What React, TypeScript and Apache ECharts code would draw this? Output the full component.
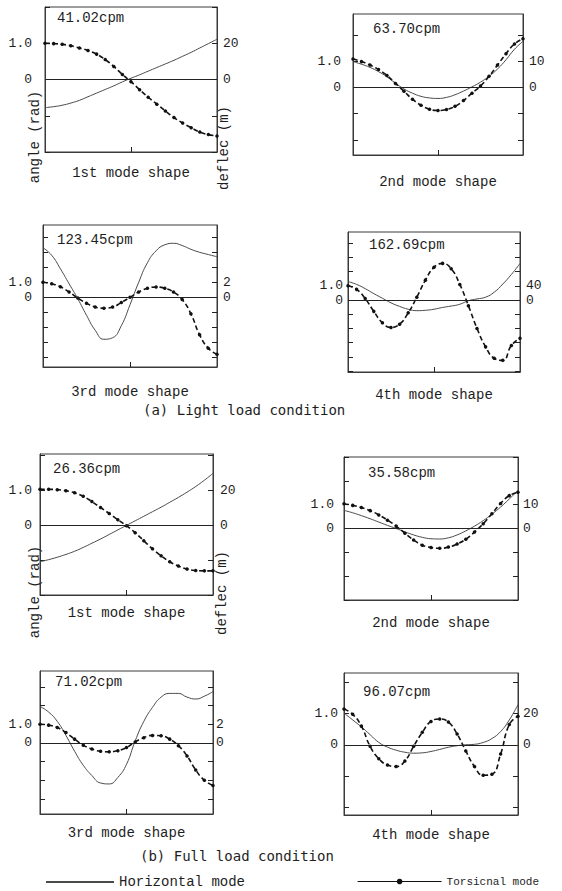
import React, { useEffect, useRef } from 'react';
import * as echarts from 'echarts';

// Position along the shaft (normalised, 0 = left end, 1 = right end)
const positions = [0, 0.05, 0.1, 0.15, 0.2, 0.25, 0.3, 0.35, 0.4, 0.45, 0.5, 0.55, 0.6, 0.65, 0.7, 0.75, 0.8, 0.85, 0.9, 0.95, 1];

const frequencies = ['41.02cpm', '63.70cpm', '123.45cpm', '162.69cpm', '26.36cpm', '35.58cpm', '71.02cpm', '96.07cpm'];
const modeCaptions = ['1st mode shape', '2nd mode shape', '3rd mode shape', '4th mode shape', '1st mode shape', '2nd mode shape', '3rd mode shape', '4th mode shape'];
const angleTickLabel = 1.0;
const deflectionTickLabels = [20, 10, 2, 40, 20, 10, 2, 20];

// (a) Light load condition — torsional angle (rad), horizontal deflection (m)
const light1Torsion = [1.0, 0.99, 0.97, 0.93, 0.87, 0.8, 0.7, 0.55, 0.36, 0.14, -0.06, -0.28, -0.49, -0.68, -0.87, -1.05, -1.2, -1.33, -1.45, -1.52, -1.56];
const light1Horizontal = [-15.5, -15, -14.2, -13, -11.5, -9.5, -7.5, -5.5, -3.5, -1.3, 0.7, 2.6, 4.6, 6.6, 8.6, 10.6, 12.8, 15, 17.4, 19.8, 22.2];
const light2Torsion = [1.08, 0.98, 0.85, 0.68, 0.45, 0.15, -0.15, -0.45, -0.68, -0.83, -0.88, -0.84, -0.72, -0.5, -0.22, 0.05, 0.42, 0.85, 1.28, 1.65, 1.85];
const light2Horizontal = [9.8, 8.8, 7.6, 6, 4, 1.6, -0.6, -2.2, -3.4, -4.0, -4.2, -3.8, -2.8, -1.4, 0.2, 2.0, 4.2, 7.0, 10.5, 14.5, 17.5];
const light3Torsion = [1.0, 0.9, 0.7, 0.35, -0.05, -0.4, -0.65, -0.73, -0.65, -0.35, 0.0, 0.35, 0.6, 0.68, 0.6, 0.35, -0.15, -1.1, -2.5, -3.4, -3.8];
const light3Horizontal = [6.6, 5.6, 3.8, 1.8, -0.2, -2.4, -4.4, -5.6, -5.4, -3.8, -1.0, 2.0, 4.6, 6.2, 7.0, 7.2, 6.9, 6.4, 6.0, 5.7, 5.4];
const light4Torsion = [1.0, 0.75, 0.1, -0.8, -1.6, -1.93, -1.7, -0.9, 0.2, 1.4, 2.3, 2.58, 2.2, 1.1, -0.4, -2.0, -3.3, -4.1, -4.25, -3.2, -2.7];
const light4Horizontal = [52, 44, 32, 18, 5, -8, -18, -26, -30, -29, -26, -21, -17, -12, -2, 3, 8, 22, 45, 72, 103];

// (b) Full load condition
const full1Torsion = [1.02, 1.02, 1.01, 0.98, 0.92, 0.82, 0.67, 0.5, 0.33, 0.15, -0.02, -0.22, -0.45, -0.68, -0.88, -1.05, -1.17, -1.26, -1.3, -1.31, -1.31];
const full1Horizontal = [-21, -19.8, -18.4, -16.8, -15, -12.8, -10.4, -8, -5.4, -2.8, -0.2, 2.4, 5, 7.6, 10.2, 13, 15.8, 18.8, 22, 25.6, 29.5];
const full2Torsion = [1.04, 0.97, 0.88, 0.75, 0.57, 0.35, 0.1, -0.2, -0.48, -0.7, -0.8, -0.83, -0.78, -0.65, -0.45, -0.15, 0.2, 0.62, 1.05, 1.38, 1.52];
const full2Horizontal = [7.6, 6.6, 5.4, 4.1, 2.7, 1.3, 0, -1.4, -2.7, -3.7, -4.3, -4.4, -3.9, -2.7, -1.0, 1.0, 3.3, 6.0, 9.0, 12.4, 16];
const full3Torsion = [1.0, 0.95, 0.82, 0.55, 0.2, -0.12, -0.33, -0.45, -0.48, -0.42, -0.25, 0.05, 0.28, 0.4, 0.38, 0.2, -0.15, -0.7, -1.45, -2.0, -2.28];
const full3Horizontal = [3.9, 3.3, 2.3, 0.8, -0.9, -2.4, -3.5, -4.3, -4.4, -3.7, -2.3, 0.2, 2.3, 3.8, 4.9, 5.3, 5.3, 4.9, 4.7, 5.0, 5.5];
const full4Torsion = [1.15, 0.98, 0.6, -0.05, -0.45, -0.65, -0.7, -0.52, -0.05, 0.4, 0.75, 0.83, 0.73, 0.35, -0.2, -0.7, -0.98, -0.95, -0.3, 0.65, 0.92];
const full4Horizontal = [20.4, 16, 11.5, 6.5, 1.5, -1.5, -3.5, -4.8, -5.4, -5.2, -4.3, -3.0, -1.6, -0.6, 0, 0.3, 1.5, 4, 8.5, 16, 25.8];

const torsionSets = [light1Torsion, light2Torsion, light3Torsion, light4Torsion, full1Torsion, full2Torsion, full3Torsion, full4Torsion];
const horizontalSets = [light1Horizontal, light2Horizontal, light3Horizontal, light4Horizontal, full1Horizontal, full2Horizontal, full3Horizontal, full4Horizontal];

// Layout of each panel: plot box [left, top, width, height], angle-axis range, label margins, caption gap, frequency text position
const layout = [
  { box: [45, 7, 172, 145], range: [-2, 2], mL: 13, mR: 6, gap: 14, cpm: [57, 18] },
  { box: [353, 14, 170, 141], range: [-2.57, 2.79], mL: 12, mR: 6, gap: 20, cpm: [373, 29] },
  { box: [43, 225, 174, 142], range: [-4.65, 4.82], mL: 11, mR: 6, gap: 18, cpm: [57, 240] },
  { box: [348, 232, 172, 140], range: [-5.07, 4.79], mL: 5, mR: 6, gap: 16, cpm: [369, 245] },
  { box: [40, 454, 173, 141], range: [-2, 2.03], mL: 8, mR: 7, gap: 11, cpm: [53, 469] },
  { box: [344, 457, 174, 143], range: [-3, 3], mL: 10, mR: 5, gap: 16, cpm: [368, 473] },
  { box: [40, 671, 173, 143], range: [-3.81, 3.85], mL: 8, mR: 3, gap: 12, cpm: [55, 682] },
  { box: [344, 673, 174, 142], range: [-2.26, 2.31], mL: 6, mR: 5, gap: 13, cpm: [363, 692] },
];

const MONO = '"Liberation Mono", "DejaVu Sans Mono", monospace';
const SANSMONO = '"DejaVu Sans Mono", "Liberation Mono", monospace';
const INK = '#1e1e1e';

function stepTicks(lo: number, hi: number, step: number) {
  const out: number[] = [];
  for (let v = Math.ceil(lo / step - 1e-9) * step; v <= hi + 1e-9; v += step) out.push(Number(v.toFixed(6)));
  return out;
}

export default function App() {
  const ref = useRef<HTMLDivElement>(null);
  useEffect(() => {
    if (!ref.current) return;
    const chart = echarts.init(ref.current, undefined, { renderer: 'svg' });
    const grid: any[] = [];
    const xAxis: any[] = [];
    const yAxis: any[] = [];
    const series: any[] = [];
    const graphic: any[] = [];

    layout.forEach((p, i) => {
      const [l, t, w, h] = p.box;
      const f = deflectionTickLabels[i];
      const leftTicks = stepTicks(p.range[0], p.range[1], 1);
      const rightTicks = stepTicks(p.range[0] * f, p.range[1] * f, f);
      grid.push({ left: l, top: t, width: w, height: h, show: true, borderColor: '#3a3a3a', borderWidth: 1, backgroundColor: 'transparent' });
      xAxis.push({
        type: 'value', gridIndex: i, min: 0, max: 1,
        axisLine: { show: true, onZero: false, lineStyle: { color: '#3a3a3a', width: 1 } },
        axisTick: { show: true, inside: true, length: 5, customValues: [0.5], lineStyle: { color: '#222', width: 1 } },
        axisLabel: { show: true, customValues: [0.5], formatter: () => '' },
        splitLine: { show: false },
        name: modeCaptions[i], nameLocation: 'middle', nameGap: p.gap,
        nameTextStyle: { fontFamily: MONO, fontSize: 14, color: INK },
      });
      yAxis.push({
        type: 'value', gridIndex: i, position: 'left', min: p.range[0], max: p.range[1],
        axisLine: { show: true, onZero: false, lineStyle: { color: '#3a3a3a', width: 1 } },
        axisTick: { show: true, inside: true, length: 5, customValues: leftTicks, lineStyle: { color: '#222', width: 1 } },
        axisLabel: {
          customValues: leftTicks, margin: p.mL, fontFamily: MONO, fontSize: 13, lineHeight: 12, color: INK,
          formatter: (v: number) => (Math.abs(v) < 1e-9 ? '0' : Math.abs(v - angleTickLabel) < 1e-9 ? angleTickLabel.toFixed(1) : ''),
        },
        splitLine: { show: false },
      });
      yAxis.push({
        type: 'value', gridIndex: i, position: 'right', min: p.range[0] * f, max: p.range[1] * f,
        axisLine: { show: true, onZero: false, lineStyle: { color: '#3a3a3a', width: 1 } },
        axisTick: { show: true, inside: true, length: 5, customValues: rightTicks, lineStyle: { color: '#222', width: 1 } },
        axisLabel: {
          customValues: rightTicks, margin: p.mR, fontFamily: MONO, fontSize: 13, lineHeight: 12, color: INK,
          formatter: (v: number) => (Math.abs(v) < 1e-9 ? '0' : Math.abs(v - f) < 1e-9 ? String(f) : ''),
        },
        splitLine: { show: false },
      });
      series.push({
        name: 'Horizontal mode', type: 'line', xAxisIndex: i, yAxisIndex: 2 * i + 1,
        data: positions.map((x, j) => [x, horizontalSets[i][j]]),
        smooth: true, symbol: 'none', color: '#4a4a4a',
        lineStyle: { color: '#4a4a4a', width: 1 }, z: 2,
      });
      series.push({
        name: 'Torsicnal mode', type: 'line', xAxisIndex: i, yAxisIndex: 2 * i,
        data: positions.map((x, j) => [x, torsionSets[i][j]]),
        smooth: true, symbol: 'circle', symbolSize: 3.5, color: '#111',
        itemStyle: { color: '#111' },
        lineStyle: { color: '#111', width: 1.6, type: [5, 3] }, z: 3,
        markLine: {
          silent: true, symbol: 'none', label: { show: false },
          lineStyle: { color: '#222', width: 1, type: 'solid' },
          data: [{ yAxis: 0 }],
        },
      });
      graphic.push({
        type: 'text', x: p.cpm[0], y: p.cpm[1],
        style: { text: frequencies[i], fontFamily: MONO, fontSize: 14, fill: INK, align: 'left', verticalAlign: 'middle' },
      });
    });

    // Axis titles on the first-mode panels
    [[35, 137, 224, 148], [35, 592, 222, 593]].forEach(([ax, ay, dx, dy]) => {
      graphic.push({ type: 'text', x: ax, y: ay, rotation: Math.PI / 2, style: { text: 'angle (rad)', fontFamily: MONO, fontSize: 14, fill: INK, align: 'center', verticalAlign: 'middle' } });
      graphic.push({ type: 'text', x: dx, y: dy, rotation: Math.PI / 2, style: { text: 'deflec (m)', fontFamily: MONO, fontSize: 14, fill: INK, align: 'center', verticalAlign: 'middle' } });
    });
    graphic.push({ type: 'text', x: 143, y: 410, style: { text: '(a) Light load condition', fontFamily: SANSMONO, fontSize: 14, fill: INK, align: 'left', verticalAlign: 'middle' } });
    graphic.push({ type: 'text', x: 140, y: 856, style: { text: '(b) Full load condition', fontFamily: SANSMONO, fontSize: 14, fill: INK, align: 'left', verticalAlign: 'middle' } });

    chart.setOption({
      animation: false,
      backgroundColor: '#ffffff',
      grid, xAxis, yAxis, series, graphic,
      legend: [
        { data: ['Horizontal mode'], left: 40, top: 870, itemWidth: 68, itemHeight: 10, itemStyle: { opacity: 0 }, textStyle: { fontFamily: MONO, fontSize: 14, color: INK } },
        { data: ['Torsicnal mode'], left: 352, top: 871, itemWidth: 84, itemHeight: 7, lineStyle: { type: 'solid', width: 1.2 }, textStyle: { fontFamily: MONO, fontSize: 11, color: INK } },
      ],
    });
    return () => chart.dispose();
  }, []);
  return <div ref={ref} style={{ position: 'absolute', left: 0, top: 0, width: 562, height: 891, background: '#fff' }} />;
}
